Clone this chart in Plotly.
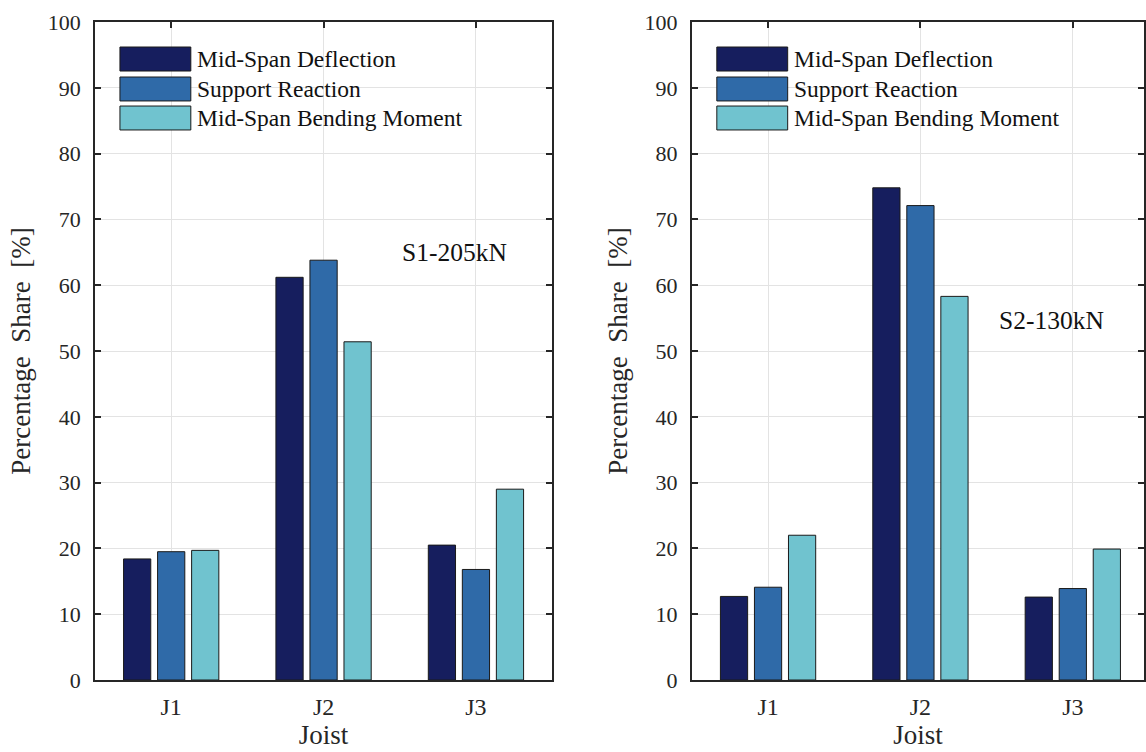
import plotly.graph_objects as go
from plotly.subplots import make_subplots

# Load-sharing results per joist for the two load steps
joists = ["J1", "J2", "J3"]
series_names = ["Mid-Span Deflection", "Support Reaction", "Mid-Span Bending Moment"]

s1_deflection = [18.4, 61.2, 20.5]
s1_reaction = [19.5, 63.8, 16.8]
s1_moment = [19.7, 51.4, 29.0]

s2_deflection = [12.7, 74.8, 12.6]
s2_reaction = [14.1, 72.1, 13.9]
s2_moment = [22.0, 58.3, 19.9]

panel_labels = ["S1-205kN", "S2-130kN"]
y_ticks = list(range(0, 101, 10))

colors = ["#161E5E", "#2F6AA8", "#70C3CF"]
ink = "#262626"
grid = "#E3E3E3"
serif = "Liberation Serif"

W, H = 1146, 752
ml, mt, mb = 95, 22, 72
plot_w = W - ml
left_px = (95, 553)
right_px = (693, 1146)
px_per_cat = (left_px[1] - left_px[0]) / 3.0

dom_left = [(left_px[0] - ml) / plot_w, (left_px[1] - ml) / plot_w]
dom_right = [(right_px[0] - ml) / plot_w, 1.0]
right_span = (right_px[1] - right_px[0]) / px_per_cat

fig = make_subplots(rows=1, cols=2)

panels = [
    (s1_deflection, s1_reaction, s1_moment),
    (s2_deflection, s2_reaction, s2_moment),
]
for col, values in enumerate(panels, start=1):
    for name, vals, c in zip(series_names, values, colors):
        fig.add_trace(
            go.Bar(
                x=joists, y=vals, name=name, marker_color=c,
                marker_line_color="#1A1A1A", marker_line_width=1,
                showlegend=False,
            ),
            row=1, col=col,
        )

fig.update_layout(
    width=W, height=H,
    margin=dict(l=ml, r=0, t=mt, b=mb),
    paper_bgcolor="white", plot_bgcolor="white",
    barmode="group", bargap=0.33, bargroupgap=0.2,
    font=dict(family=serif, color=ink, size=21),
    xaxis=dict(domain=dom_left, range=[-0.5, 2.5]),
    xaxis2=dict(domain=dom_right, range=[-0.5, -0.5 + right_span]),
)

axis_common = dict(
    showline=True, linecolor=ink, linewidth=1.8, mirror="ticks",
    ticks="inside", ticklen=6, tickwidth=1.6, tickcolor=ink,
    showgrid=True, gridcolor=grid, gridwidth=1, zeroline=False,
)
fig.update_xaxes(
    **axis_common, layer="below traces",
    tickfont=dict(family=serif, size=24, color=ink), ticklabelstandoff=4,
    title=dict(text="Joist", font=dict(family=serif, size=27, color=ink), standoff=6),
)
fig.update_yaxes(
    **axis_common, range=[0, 100], tickvals=y_ticks,
    tickfont=dict(family=serif, size=22, color=ink), ticklabelstandoff=8,
    title=dict(text="Percentage  Share  [%]", font=dict(family=serif, size=27, color=ink), standoff=9),
)

# Hand-drawn legend blocks (wide patches) in each panel
legend_rows = [(0.962, 0.9255), (0.9164, 0.880), (0.8723, 0.8359)]
for xr, yr, x0, x1, xt in [
    ("x domain", "y domain", 25 / 458, 96 / 458, 100 / 458),
    ("x2 domain", "y2 domain", 25 / 453, 96 / 453, 100 / 453),
]:
    for (top, bot), name, c in zip(legend_rows, series_names, colors):
        fig.add_shape(
            type="rect", xref=xr, yref=yr, x0=x0, x1=x1, y0=bot, y1=top,
            fillcolor=c, line=dict(color="#1A1A1A", width=1),
        )
        fig.add_annotation(
            xref=xr, yref=yr, x=xt, y=(top + bot) / 2, text=name,
            showarrow=False, xanchor="left", yanchor="middle",
            font=dict(family=serif, size=23.5, color="#111111"),
        )

fig.add_annotation(xref="x", yref="y", x=1.5, y=65, text=panel_labels[0],
                   showarrow=False, xanchor="left", yanchor="middle",
                   font=dict(family=serif, size=25.5, color="#111111"))
fig.add_annotation(xref="x2", yref="y2", x=1.5, y=54.7, text=panel_labels[1],
                   showarrow=False, xanchor="left", yanchor="middle",
                   font=dict(family=serif, size=25.5, color="#111111"))

fig.write_html("out.html")
